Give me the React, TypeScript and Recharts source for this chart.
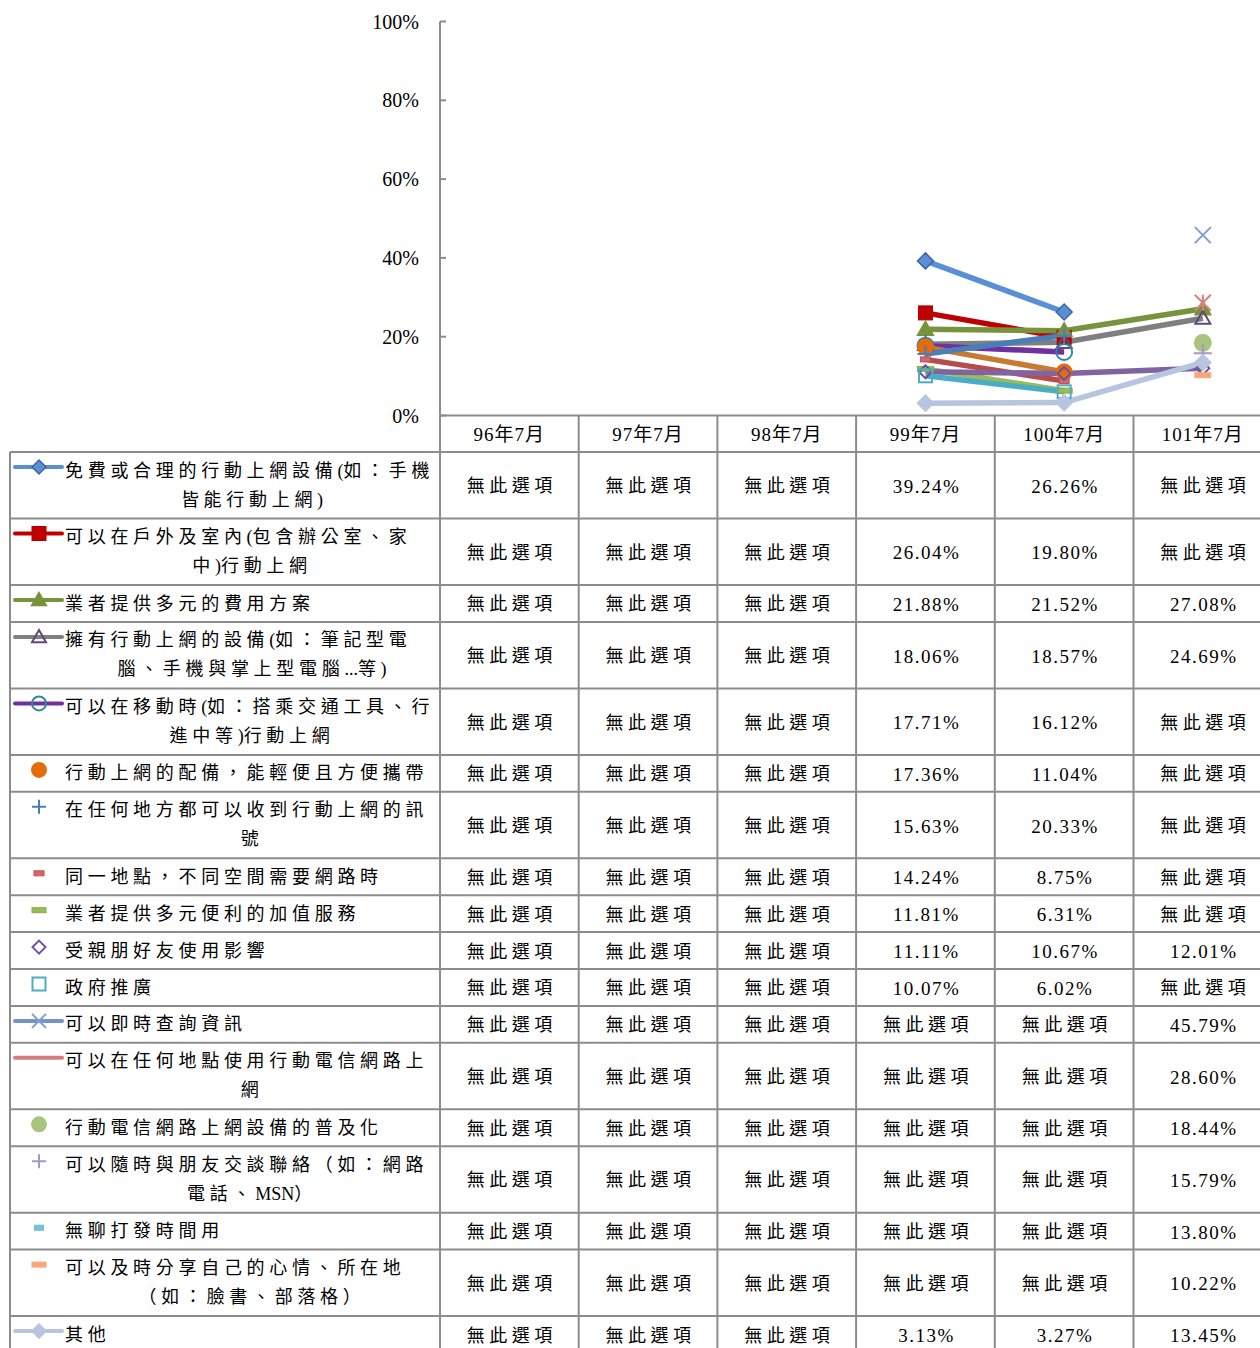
import React from "react";
import { LineChart, Line, XAxis, YAxis } from "recharts";

// survey periods (x categories)
const PERIODS = ["96年7月", "97年7月", "98年7月", "99年7月", "100年7月", "101年7月"];
const Y_TICKS = [0, 0.2, 0.4, 0.6, 0.8, 1];

// percent values, null = 無此選項
const freeDevice = [null, null, null, 39.24, 26.26, null];
const indoorOutdoor = [null, null, null, 26.04, 19.8, null];
const pricingPlans = [null, null, null, 21.88, 21.52, 27.08];
const ownDevice = [null, null, null, 18.06, 18.57, 24.69];
const onTheMove = [null, null, null, 17.71, 16.12, null];
const portable = [null, null, null, 17.36, 11.04, null];
const signalEverywhere = [null, null, null, 15.63, 20.33, null];
const sameSpot = [null, null, null, 14.24, 8.75, null];
const valueAdded = [null, null, null, 11.81, 6.31, null];
const peerInfluence = [null, null, null, 11.11, 10.67, 12.01];
const government = [null, null, null, 10.07, 6.02, null];
const instantInfo = [null, null, null, null, null, 45.79];
const anywhereTelecom = [null, null, null, null, null, 28.6];
const deviceSpread = [null, null, null, null, null, 18.44];
const chatFriends = [null, null, null, null, null, 15.79];
const killTime = [null, null, null, null, null, 13.8];
const shareMood = [null, null, null, null, null, 10.22];
const other = [null, null, null, 3.13, 3.27, 13.45];

const SERIES_VALUES: (number | null)[][] = [
  freeDevice, indoorOutdoor, pricingPlans, ownDevice, onTheMove, portable,
  signalEverywhere, sameSpot, valueAdded, peerInfluence, government, instantInfo,
  anywhereTelecom, deviceSpread, chatFriends, killTime, shareMood, other,
];

// row labels, as wrapped in the data table
const SERIES_LABELS: string[][] = [
  ["免費或合理的行動上網設備(如：手機", "皆能行動上網)"],
  ["可以在戶外及室內(包含辦公室、家", "中)行動上網"],
  ["業者提供多元的費用方案"],
  ["擁有行動上網的設備(如：筆記型電", "腦、手機與掌上型電腦...等)"],
  ["可以在移動時(如：搭乘交通工具、行", "進中等)行動上網"],
  ["行動上網的配備，能輕便且方便攜帶"],
  ["在任何地方都可以收到行動上網的訊", "號"],
  ["同一地點，不同空間需要網路時"],
  ["業者提供多元便利的加值服務"],
  ["受親朋好友使用影響"],
  ["政府推廣"],
  ["可以即時查詢資訊"],
  ["可以在任何地點使用行動電信網路上", "網"],
  ["行動電信網路上網設備的普及化"],
  ["可以隨時與朋友交談聯絡（如：網路", "電話、MSN）"],
  ["無聊打發時間用"],
  ["可以及時分享自己的心情、所在地", "（如：臉書、部落格）"],
  ["其他"],
];

type Shape = "diamond" | "square" | "triangle" | "circle" | "plus" | "x" | "star" | "dash" | "none";

interface SeriesStyle {
  line: string;
  shape: Shape;
  fill: string;
  stroke: string;
  size: number;
  legendLine: boolean;
  legendMarker: boolean;
}

const STYLES: SeriesStyle[] = [
  { line: "#5B8FD5", shape: "diamond", fill: "#5B8FD5", stroke: "#3C67A6", size: 16, legendLine: true, legendMarker: true },
  { line: "#C00000", shape: "square", fill: "#C00000", stroke: "#B00000", size: 14, legendLine: true, legendMarker: true },
  { line: "#77933C", shape: "triangle", fill: "#77933C", stroke: "#77933C", size: 15, legendLine: true, legendMarker: true },
  { line: "#7F7F7F", shape: "triangle", fill: "none", stroke: "#5F497A", size: 15, legendLine: true, legendMarker: true },
  { line: "#7030A0", shape: "circle", fill: "none", stroke: "#31859C", size: 16, legendLine: true, legendMarker: true },
  { line: "#C87A33", shape: "circle", fill: "#E46C0A", stroke: "#E46C0A", size: 15, legendLine: false, legendMarker: true },
  { line: "#4A7EBB", shape: "plus", fill: "none", stroke: "#4A7EBB", size: 16, legendLine: false, legendMarker: true },
  { line: "#B84C4A", shape: "dash", fill: "#D06A68", stroke: "#C0504D", size: 10, legendLine: false, legendMarker: true },
  { line: "#9BBB59", shape: "dash", fill: "#9BBB59", stroke: "#8AAA4A", size: 16, legendLine: false, legendMarker: true },
  { line: "#8064A2", shape: "diamond", fill: "none", stroke: "#7050A0", size: 13, legendLine: false, legendMarker: true },
  { line: "#4BACC6", shape: "square", fill: "none", stroke: "#4BACC6", size: 13, legendLine: false, legendMarker: true },
  { line: "#7394CC", shape: "x", fill: "none", stroke: "#7F9FD0", size: 16, legendLine: true, legendMarker: true },
  { line: "#D47E7C", shape: "star", fill: "none", stroke: "#D9807D", size: 16, legendLine: true, legendMarker: false },
  { line: "#A8C47E", shape: "circle", fill: "#A8C47E", stroke: "#A8C47E", size: 16, legendLine: false, legendMarker: true },
  { line: "#A597C3", shape: "plus", fill: "none", stroke: "#A597C3", size: 18, legendLine: false, legendMarker: true },
  { line: "#6BB8D3", shape: "dash", fill: "#7AC1DA", stroke: "#6BB8D3", size: 9, legendLine: false, legendMarker: true },
  { line: "#F8A77A", shape: "dash", fill: "#F8A77A", stroke: "#F8A77A", size: 16, legendLine: false, legendMarker: true },
  { line: "#B7C5E1", shape: "diamond", fill: "#B7C5E1", stroke: "#B7C5E1", size: 16, legendLine: true, legendMarker: true },
];

const data = PERIODS.map((period, j) => {
  const row: Record<string, string | number | null> = { period };
  SERIES_VALUES.forEach((vals, i) => {
    row[`s${i}`] = vals[j] == null ? null : (vals[j] as number) / 100;
  });
  return row;
});

const FONT = '"Liberation Serif", "Noto Sans CJK TC", serif';
const GRID = "#8c8c8c";
const CHART_W = 1280;
const CHART_H = 1348;
const PLOT_LEFT = 440;
const PLOT_TOP = 21.5;
const PLOT_BOTTOM = 415.5;
const COL_W = 138.7;
const HEADER_H = 36.5;
const TABLE_LEFT = 10;
const ROW_1 = 36.9;
const ROW_2 = 66.5;
const PLOT_RIGHT = PLOT_LEFT + COL_W * PERIODS.length;
const CJK_SPACING = 4.7;

// wide spacing only on the CJK runs, latin runs stay tight
function spaced(text: string, ls: number) {
  const runs = text.match(/[\u2E80-\uFFFF]+|[^\u2E80-\uFFFF]+/g) || [];
  return runs.map((r, k) => (
    <tspan key={k} style={{ letterSpacing: /[\u2E80-\uFFFF]/.test(r) ? ls : 0 }}>
      {r}
    </tspan>
  ));
}

function Marker({ shape, cx, cy, size, fill, stroke }: {
  shape: Shape; cx: number; cy: number; size: number; fill: string; stroke: string;
}) {
  const h = size / 2;
  switch (shape) {
    case "diamond":
      return (
        <polygon
          points={`${cx},${cy - h} ${cx + h},${cy} ${cx},${cy + h} ${cx - h},${cy}`}
          fill={fill}
          stroke={stroke}
          strokeWidth={fill === "none" ? 2 : 1.5}
        />
      );
    case "square":
      return <rect x={cx - h} y={cy - h} width={size} height={size} fill={fill} stroke={stroke} strokeWidth={fill === "none" ? 2 : 1} />;
    case "triangle":
      return (
        <polygon
          points={`${cx},${cy - h} ${cx + h},${cy + h * 0.75} ${cx - h},${cy + h * 0.75}`}
          fill={fill}
          stroke={stroke}
          strokeWidth={2}
        />
      );
    case "circle":
      return <circle cx={cx} cy={cy} r={h} fill={fill} stroke={stroke} strokeWidth={2} />;
    case "plus":
      return <path d={`M${cx - h},${cy}H${cx + h}M${cx},${cy - h}V${cy + h}`} stroke={stroke} strokeWidth={2} fill="none" />;
    case "x":
      return <path d={`M${cx - h},${cy - h}L${cx + h},${cy + h}M${cx + h},${cy - h}L${cx - h},${cy + h}`} stroke={stroke} strokeWidth={2} fill="none" />;
    case "star":
      return (
        <path
          d={`M${cx - h},${cy - h}L${cx + h},${cy + h}M${cx + h},${cy - h}L${cx - h},${cy + h}M${cx},${cy - h}V${cy + h}`}
          stroke={stroke}
          strokeWidth={2}
          fill="none"
        />
      );
    case "dash":
      return <rect x={cx - h} y={cy - 2.5} width={size} height={5} fill={fill} stroke={stroke} strokeWidth={1} />;
    default:
      return <g />;
  }
}

const YTick = (props: any) => {
  const { y, payload } = props;
  return (
    <g>
      <line x1={PLOT_LEFT} x2={PLOT_LEFT + 6} y1={y} y2={y} stroke={GRID} strokeWidth={2} />
      <text x={419} y={y} textAnchor="end" dominantBaseline="central" fontSize={20} fontFamily={FONT} fill="#000">
        {Math.round(payload.value * 100)}%
      </text>
    </g>
  );
};

const XTick = (props: any) => {
  const { x, payload } = props;
  return (
    <text
      x={x}
      y={PLOT_BOTTOM + HEADER_H / 2 + 1}
      textAnchor="middle"
      dominantBaseline="central"
      fontSize={19}
      fontFamily={FONT}
      fill="#000"
      style={{ letterSpacing: 1 }}
    >
      {payload.value}
    </text>
  );
};

function DataTable() {
  const top0 = PLOT_BOTTOM + HEADER_H;
  let y = top0;
  const rows = SERIES_LABELS.map((lines, i) => {
    const h = lines.length > 1 ? ROW_2 : ROW_1;
    const top = y;
    y += h;
    return { i, lines, top, h };
  });
  const bottom = CHART_H + 20;
  return (
    <g>
      {/* grid */}
      {PERIODS.map((_, k) => (
        <line key={`v${k}`} x1={PLOT_LEFT + COL_W * k} x2={PLOT_LEFT + COL_W * k} y1={PLOT_BOTTOM} y2={bottom} stroke={GRID} strokeWidth={2} />
      ))}
      <line x1={PLOT_RIGHT} x2={PLOT_RIGHT} y1={PLOT_BOTTOM} y2={bottom} stroke={GRID} strokeWidth={2} />
      <line x1={TABLE_LEFT} x2={TABLE_LEFT} y1={top0} y2={bottom} stroke={GRID} strokeWidth={2} />
      <line x1={TABLE_LEFT} x2={PLOT_RIGHT} y1={top0} y2={top0} stroke={GRID} strokeWidth={2} />
      {rows.map((r) => (
        <line key={`h${r.i}`} x1={TABLE_LEFT} x2={PLOT_RIGHT} y1={r.top + r.h} y2={r.top + r.h} stroke={GRID} strokeWidth={2} />
      ))}
      {rows.map((r) => {
        const st = STYLES[r.i];
        const keyY = r.top + 15;
        return (
          <g key={`r${r.i}`}>
            {st.legendLine && (
              <line x1={15} x2={62} y1={keyY} y2={keyY} stroke={st.line} strokeWidth={4} strokeLinecap="round" />
            )}
            {st.legendMarker && (
              <Marker shape={st.shape} cx={39} cy={keyY} size={Math.min(st.size, 14)} fill={st.fill} stroke={st.stroke} />
            )}
            <text x={65} y={r.top + 18.5} dominantBaseline="central" fontSize={18} fontFamily={FONT} fill="#000">
              {spaced(r.lines[0], CJK_SPACING)}
            </text>
            {r.lines[1] && (
              <text x={252} y={r.top + 47.5} textAnchor="middle" dominantBaseline="central" fontSize={18} fontFamily={FONT} fill="#000">
                {spaced(r.lines[1], CJK_SPACING)}
              </text>
            )}
            {SERIES_VALUES[r.i].map((v, j) => (
              <text
                key={j}
                x={PLOT_LEFT + COL_W * (j + 0.5) + (v == null ? 2.5 : 1)}
                y={r.top + r.h / 2 + 1}
                textAnchor="middle"
                dominantBaseline="central"
                fontSize={v == null ? 18 : 19}
                fontFamily={FONT}
                fill="#000"
                style={{ letterSpacing: v == null ? 0 : 1.5 }}
              >
                {v == null ? spaced("無此選項", 4.5) : `${v.toFixed(2)}%`}
              </text>
            ))}
          </g>
        );
      })}
    </g>
  );
}

export default function App() {
  return (
    <div style={{ position: "absolute", left: 0, top: 0, width: 1260, height: 1348, overflow: "hidden", background: "#fff" }}>
      <LineChart
        width={CHART_W}
        height={CHART_H}
        data={data}
        margin={{ top: PLOT_TOP, right: CHART_W - PLOT_RIGHT, bottom: CHART_H - PLOT_BOTTOM - HEADER_H, left: 0 }}
      >
        <DataTable />
        <XAxis
          dataKey="period"
          scale="point"
          padding={{ left: COL_W / 2, right: COL_W / 2 }}
          height={HEADER_H}
          interval={0}
          tickLine={false}
          axisLine={{ stroke: GRID, strokeWidth: 2 }}
          tick={<XTick />}
        />
        <YAxis
          width={PLOT_LEFT}
          domain={[0, 1]}
          ticks={Y_TICKS}
          interval={0}
          tickLine={false}
          axisLine={{ stroke: GRID, strokeWidth: 2 }}
          tick={<YTick />}
        />
        {STYLES.map((st, i) => (
          <Line
            key={i}
            dataKey={`s${i}`}
            stroke={st.line}
            strokeWidth={5.5}
            isAnimationActive={false}
            activeDot={false}
            dot={(p: any) => {
              const k = `d${i}-${p.index}`;
              if (p.cy == null || p.payload?.[`s${i}`] == null) return <g key={k} />;
              return <Marker key={k} shape={st.shape} cx={p.cx} cy={p.cy} size={st.size} fill={st.fill} stroke={st.stroke} />;
            }}
          />
        ))}
      </LineChart>
    </div>
  );
}
